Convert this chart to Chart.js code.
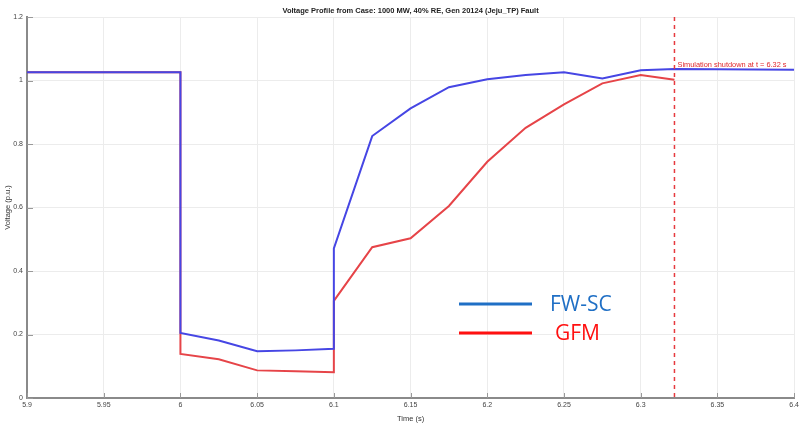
<!DOCTYPE html>
<html>
<head>
<meta charset="utf-8">
<script src="https://cdn.jsdelivr.net/npm/chart.js@4/dist/chart.umd.min.js"></script>
<style>
  body { margin: 0; background: #fff; }
  #wrap { width: 802px; height: 426px; position: relative; }
</style>
</head>
<body>
<div id="wrap"><canvas id="voltageChart"></canvas></div>
<script>
// data
const chartTitle = 'Voltage Profile from Case: 1000 MW, 40% RE, Gen 20124 (Jeju_TP) Fault';
const fwscTime = [5.9, 6.0, 6.0, 6.025, 6.05, 6.075, 6.1, 6.1, 6.125, 6.15, 6.175, 6.2, 6.225, 6.25, 6.275, 6.3, 6.322, 6.4];
const fwscVolt = [1.026, 1.026, 0.205, 0.181, 0.147, 0.150, 0.155, 0.471, 0.825, 0.912, 0.979, 1.004, 1.017, 1.026, 1.006, 1.032, 1.036, 1.034];
const gfmTime = [5.9, 6.0, 6.0, 6.025, 6.05, 6.075, 6.1, 6.1, 6.125, 6.15, 6.175, 6.2, 6.225, 6.25, 6.275, 6.3, 6.322];
const gfmVolt = [1.026, 1.026, 0.139, 0.122, 0.087, 0.084, 0.081, 0.306, 0.475, 0.503, 0.605, 0.744, 0.851, 0.925, 0.991, 1.017, 1.002];
const shutdownTime = 6.322;
const shutdownLabel = 'Simulation shutdown at t = 6.32 s';
const legendNames = ['FW-SC', 'GFM'];

function toPoints(xs, ys) {
    return xs.map((x, i) => ({ x: x, y: ys[i] }));
}

// title, inward ticks, shutdown marker and the big legend
const extrasPlugin = {
    id: 'extras',
    afterDraw(chart) {
        const ctx = chart.ctx;
        const area = chart.chartArea;
        const xs = chart.scales.x;
        const ys = chart.scales.y;
        ctx.save();

        // title
        ctx.fillStyle = '#222';
        ctx.font = 'bold 7.5px "Liberation Sans", Arial, sans-serif';
        ctx.textAlign = 'center';
        ctx.textBaseline = 'middle';
        ctx.fillText(chartTitle, (area.left + area.right) / 2, 11);

        // inward tick marks
        ctx.strokeStyle = '#999';
        ctx.lineWidth = 1;
        ctx.beginPath();
        xs.ticks.forEach(t => {
            const px = Math.round(xs.getPixelForValue(t.value)) + 0.5;
            ctx.moveTo(px, area.bottom);
            ctx.lineTo(px, area.bottom - 5);
        });
        ys.ticks.forEach(t => {
            const py = Math.round(ys.getPixelForValue(t.value)) + 0.5;
            ctx.moveTo(area.left, py);
            ctx.lineTo(area.left + 6, py);
        });
        ctx.stroke();

        // shutdown line
        const sx = xs.getPixelForValue(shutdownTime);
        ctx.strokeStyle = '#e63a3e';
        ctx.lineWidth = 1.5;
        ctx.setLineDash([4, 4]);
        ctx.beginPath();
        ctx.moveTo(sx, area.top);
        ctx.lineTo(sx, area.bottom);
        ctx.stroke();
        ctx.setLineDash([]);
        ctx.fillStyle = '#e0262b';
        ctx.font = '7.4px "Liberation Sans", Arial, sans-serif';
        ctx.textAlign = 'left';
        ctx.textBaseline = 'alphabetic';
        ctx.fillText(shutdownLabel, sx + 3, 67);

        // legend
        const legendColors = ['#1f6fc5', '#ff1010'];
        const legendY = [304, 333];
        const textX = [550, 555];
        ctx.lineWidth = 3;
        ctx.font = '21px "Open Sans", "Noto Sans", sans-serif';
        ctx.textBaseline = 'middle';
        legendNames.forEach((name, i) => {
            ctx.strokeStyle = legendColors[i];
            ctx.beginPath();
            ctx.moveTo(459, legendY[i]);
            ctx.lineTo(532, legendY[i]);
            ctx.stroke();
            ctx.fillStyle = legendColors[i];
            ctx.fillText(name, textX[i], legendY[i] + 1);
        });
        ctx.restore();
    }
};

const ctx = document.getElementById('voltageChart').getContext('2d');
new Chart(ctx, {
    type: 'line',
    data: {
        datasets: [{
            label: legendNames[0],
            data: toPoints(fwscTime, fwscVolt),
            borderColor: '#4646e4',
            borderWidth: 2,
            pointRadius: 0,
            tension: 0
        }, {
            label: legendNames[1],
            data: toPoints(gfmTime, gfmVolt),
            borderColor: '#e64448',
            borderWidth: 2,
            pointRadius: 0,
            tension: 0
        }]
    },
    options: {
        responsive: true,
        maintainAspectRatio: false,
        animation: false,
        layout: { padding: { top: 17, right: 7, left: 0, bottom: 0 } },
        plugins: {
            legend: { display: false },
            tooltip: { enabled: false },
            title: { display: false }
        },
        scales: {
            x: {
                type: 'linear',
                min: 5.9,
                max: 6.4,
                ticks: {
                    stepSize: 0.05,
                    color: '#444',
                    font: { size: 7, family: 'Liberation Sans' },
                    padding: 3,
                    maxRotation: 0,
                    callback: v => String(parseFloat(v.toFixed(2)))
                },
                grid: { color: '#ececec', drawTicks: false },
                border: { color: '#8a8a8a', width: 2 },
                title: {
                    display: true,
                    text: 'Time (s)',
                    color: '#333',
                    font: { size: 7.5, family: 'Liberation Sans' },
                    padding: { top: 0, bottom: 3 }
                },
                afterFit: scale => { scale.height = 28; }
            },
            y: {
                min: 0,
                max: 1.2,
                ticks: {
                    stepSize: 0.2,
                    color: '#444',
                    font: { size: 7, family: 'Liberation Sans' },
                    padding: 4,
                    callback: v => String(parseFloat(v.toFixed(1)))
                },
                grid: { color: '#ececec', drawTicks: false },
                border: { color: '#8a8a8a', width: 2 },
                title: {
                    display: true,
                    text: 'Voltage (p.u.)',
                    color: '#333',
                    font: { size: 7.5, family: 'Liberation Sans' },
                    padding: { top: 3, bottom: 0 }
                },
                afterFit: scale => { scale.width = 27; }
            }
        }
    },
    plugins: [extrasPlugin]
});
</script>
</body>
</html>
